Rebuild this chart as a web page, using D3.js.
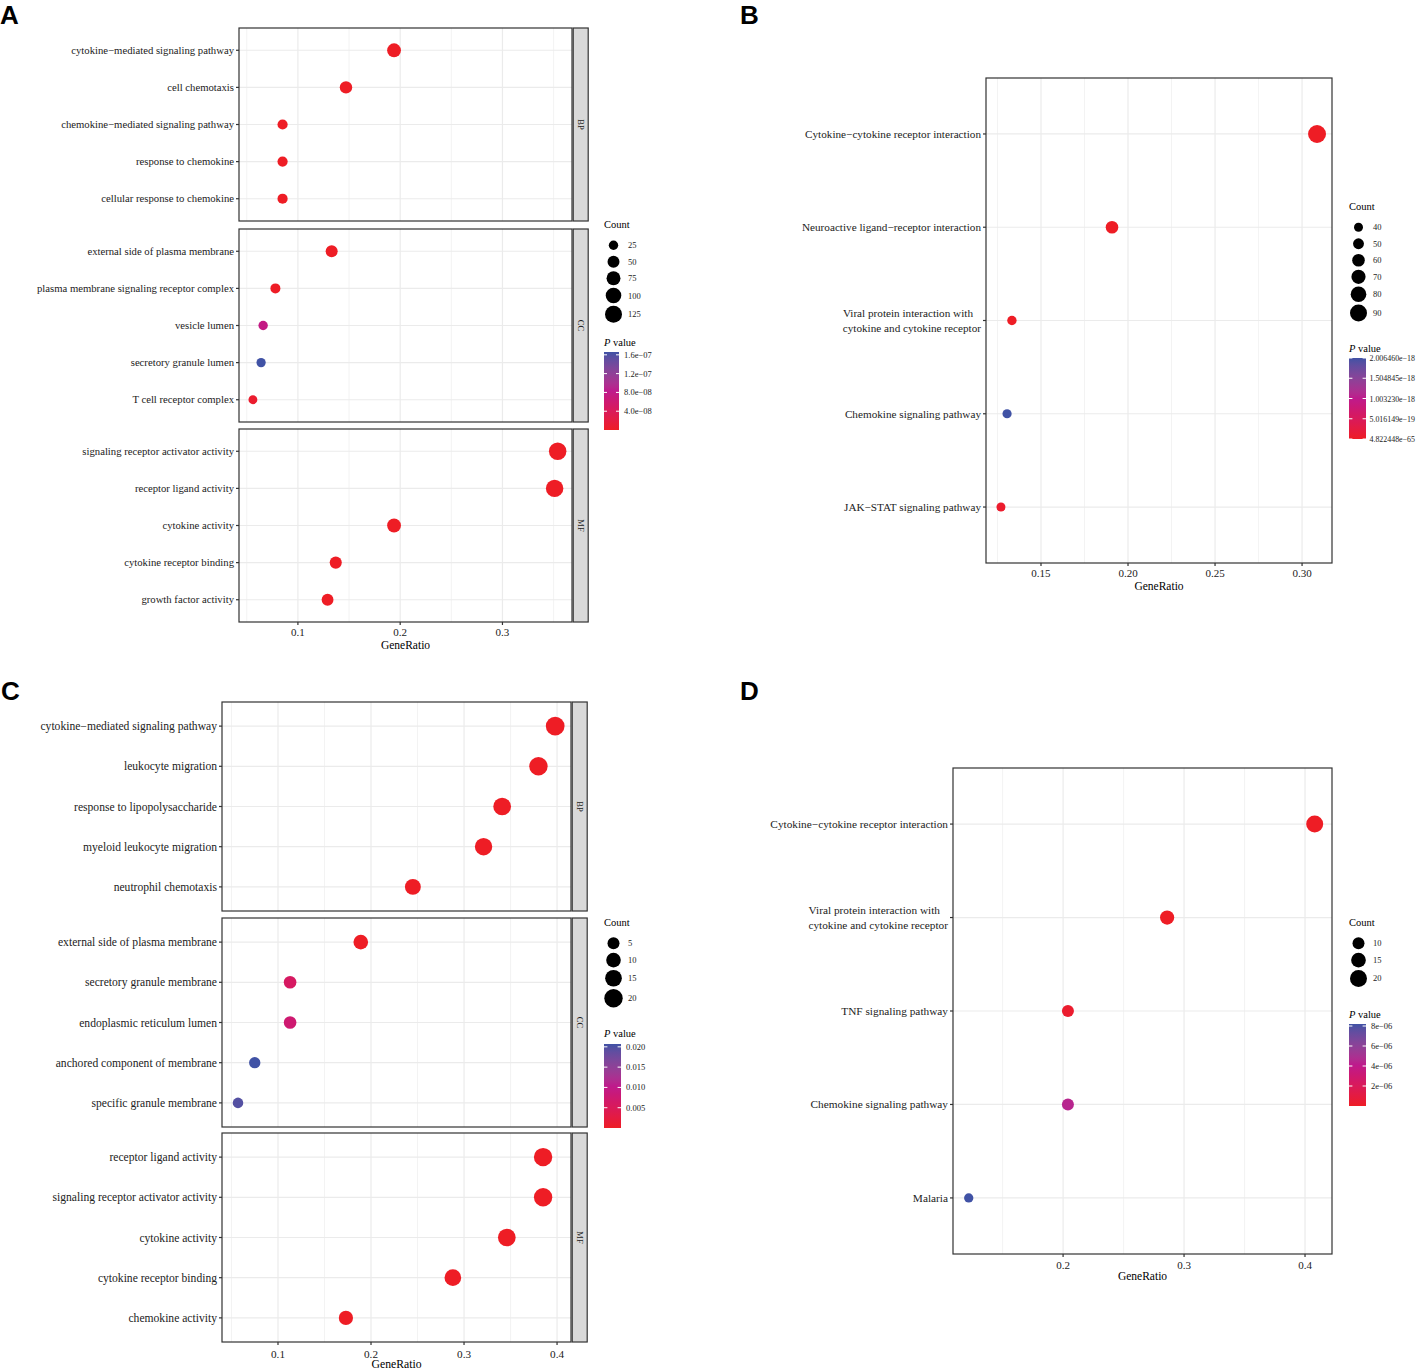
<!DOCTYPE html>
<html><head><meta charset="utf-8">
<script src="https://cdn.jsdelivr.net/npm/d3@7"></script>
<style>
body{margin:0;background:#fff;}
svg{display:block;}
</style>
</head><body>
<svg id="chart" width="1418" height="1370" style="font-family:'Liberation Serif','Times New Roman',serif"></svg>
<script>
// ---------------- Panel A (GO enrichment, faceted) ----------------
const aTerms = [
  "cytokine−mediated signaling pathway","cell chemotaxis","chemokine−mediated signaling pathway","response to chemokine","cellular response to chemokine",
  "external side of plasma membrane","plasma membrane signaling receptor complex","vesicle lumen","secretory granule lumen","T cell receptor complex",
  "signaling receptor activator activity","receptor ligand activity","cytokine activity","cytokine receptor binding","growth factor activity"];
const aOntology = ["BP","BP","BP","BP","BP","CC","CC","CC","CC","CC","MF","MF","MF","MF","MF"];
const aGeneRatio = [0.194,0.147,0.085,0.085,0.085, 0.133,0.078,0.066,0.064,0.056, 0.354,0.351,0.194,0.137,0.129];
const aCount = [74,56,32,32,32, 51,30,25,24,21, 134,133,74,52,49];
const aPvalue = [2.1e-30,5.3e-22,1.2e-18,2.5e-18,2.5e-18, 3.4e-16,8.5e-10,7.6e-8,1.66e-7,6.0e-9, 3.1e-41,7.2e-41,1.5e-33,2.6e-20,4.4e-17];
const aXTicks = [0.1,0.2,0.3];
const aXTickLabels = ["0.1","0.2","0.3"];
const aXMinor = [0.05,0.15,0.25,0.35];
const aCountBreaks = [25,50,75,100,125];
const aPBreaks = [4e-8,8e-8,1.2e-7,1.6e-7];
const aPLabels = ["4.0e−08","8.0e−08","1.2e−07","1.6e−07"];

// ---------------- Panel B (KEGG) ----------------
const bTerms = ["Cytokine−cytokine receptor interaction","Neuroactive ligand−receptor interaction",
  "Viral protein interaction with\ncytokine and cytokine receptor","Chemokine signaling pathway","JAK−STAT signaling pathway"];
const bGeneRatio = [0.3086,0.1908,0.1333,0.1305,0.1270];
const bCount = [97,60,42,41,40];
const bPvalue = [4.822448e-65,3.1e-30,1.4e-24,2.006460e-18,6.2e-20];
const bXTicks = [0.15,0.20,0.25,0.30];
const bXTickLabels = ["0.15","0.20","0.25","0.30"];
const bXMinor = [0.125,0.175,0.225,0.275];
const bCountBreaks = [40,50,60,70,80,90];
const bPBreaks = [4.822448e-65,5.016149e-19,1.003230e-18,1.504845e-18,2.006460e-18];
const bPLabels = ["4.822448e−65","5.016149e−19","1.003230e−18","1.504845e−18","2.006460e−18"];

// ---------------- Panel C (GO enrichment, faceted) ----------------
const cTerms = [
  "cytokine−mediated signaling pathway","leukocyte migration","response to lipopolysaccharide","myeloid leukocyte migration","neutrophil chemotaxis",
  "external side of plasma membrane","secretory granule membrane","endoplasmic reticulum lumen","anchored component of membrane","specific granule membrane",
  "receptor ligand activity","signaling receptor activator activity","cytokine activity","cytokine receptor binding","chemokine activity"];
const cOntology = ["BP","BP","BP","BP","BP","CC","CC","CC","CC","CC","MF","MF","MF","MF","MF"];
const cGeneRatio = [0.398,0.380,0.341,0.321,0.245, 0.189,0.113,0.113,0.075,0.057, 0.385,0.385,0.346,0.288,0.173];
const cCount = [21,20,18,17,13, 10,6,6,4,3, 20,20,18,15,9];
const cPvalue = [2.3e-13,5.1e-14,1.2e-12,3.4e-13,6.7e-12, 2.1e-5,0.0058,0.0074,0.0207,0.0196, 1.1e-15,1.3e-15,2.2e-14,8.7e-12,5.5e-9];
const cXTicks = [0.1,0.2,0.3,0.4];
const cXTickLabels = ["0.1","0.2","0.3","0.4"];
const cXMinor = [0.05,0.15,0.25,0.35];
const cCountBreaks = [5,10,15,20];
const cPBreaks = [0.005,0.010,0.015,0.020];
const cPLabels = ["0.005","0.010","0.015","0.020"];

// ---------------- Panel D (KEGG) ----------------
const dTerms = ["Cytokine−cytokine receptor interaction","Viral protein interaction with\ncytokine and cytokine receptor",
  "TNF signaling pathway","Chemokine signaling pathway","Malaria"];
const dGeneRatio = [0.408,0.286,0.204,0.204,0.122];
const dCount = [20,14,10,10,6];
const dPvalue = [3.2e-15,2.4e-10,3.1e-7,4.4e-6,8.2e-6];
const dXTicks = [0.2,0.3,0.4];
const dXTickLabels = ["0.2","0.3","0.4"];
const dXMinor = [0.15,0.25,0.35];
const dCountBreaks = [10,15,20];
const dPBreaks = [2e-6,4e-6,6e-6,8e-6];
const dPLabels = ["2e−06","4e−06","6e−06","8e−06"];

// ---------------- drawing ----------------
const svg = d3.select("#chart");
const defs = svg.append("defs");
const LOW = "#EE1D25", MID = "#BE1A8C", HIGH = "#4052A5";
const GRID = "#EBEBEB", BORDER = "#333333", TXT = "#222222";
let gradId = 0;

function drawPanel(cfg, data) {
  const g = svg.append("g");
  const x = d3.scaleLinear().domain(cfg.xDomain).range([cfg.left, cfg.right]);
  const pExt = d3.extent(data.pvalue);
  const color = d3.scaleLinear()
    .domain([pExt[0], (pExt[0] + pExt[1]) / 2, pExt[1]])
    .range([LOW, MID, HIGH]).interpolate(d3.interpolateLab);
  const size = d3.scaleSqrt().domain(cfg.sizeDomain).range(cfg.sizeRange);
  const rows = data.terms.map((t, i) => ({term: t, grp: data.group ? data.group[i] : "all",
    gr: data.ratio[i], n: data.count[i], p: data.pvalue[i]}));

  cfg.facets.forEach(f => {
    const sub = rows.filter(r => r.grp === f.name);
    const y = d3.scalePoint().domain(sub.map(r => r.term)).range([f.top, f.bottom]).padding(0.6);
    g.append("rect").attr("x", cfg.left).attr("y", f.top)
      .attr("width", cfg.right - cfg.left).attr("height", f.bottom - f.top).attr("fill", "#fff");
    g.selectAll(null).data(data.minor).enter().append("line")
      .attr("x1", d => x(d)).attr("x2", d => x(d)).attr("y1", f.top).attr("y2", f.bottom)
      .attr("stroke", GRID).attr("stroke-width", 0.6);
    g.selectAll(null).data(data.xticks).enter().append("line")
      .attr("x1", d => x(d)).attr("x2", d => x(d)).attr("y1", f.top).attr("y2", f.bottom)
      .attr("stroke", GRID).attr("stroke-width", 1.2);
    g.selectAll(null).data(sub).enter().append("line")
      .attr("x1", cfg.left).attr("x2", cfg.right).attr("y1", d => y(d.term)).attr("y2", d => y(d.term))
      .attr("stroke", GRID).attr("stroke-width", 1.2);
    g.selectAll(null).data(sub).enter().append("circle")
      .attr("cx", d => x(d.gr)).attr("cy", d => y(d.term)).attr("r", d => size(d.n))
      .attr("fill", d => color(d.p));
    g.append("rect").attr("x", cfg.left).attr("y", f.top)
      .attr("width", cfg.right - cfg.left).attr("height", f.bottom - f.top)
      .attr("fill", "none").attr("stroke", BORDER).attr("stroke-width", 1.2);
    g.selectAll(null).data(sub).enter().append("line")
      .attr("x1", cfg.left - 3).attr("x2", cfg.left).attr("y1", d => y(d.term)).attr("y2", d => y(d.term))
      .attr("stroke", BORDER).attr("stroke-width", 1.2);
    sub.forEach(r => {
      const lines = r.term.split("\n");
      const t = g.append("text").attr("text-anchor", "end").attr("fill", TXT)
        .attr("font-size", cfg.labelSize);
      const lh = cfg.labelSize * 1.3;
      lines.forEach((ln, k) => {
        t.append("tspan").attr("x", cfg.left - 5 + (lines.length > 1 && k === 0 ? -8 : 0))
          .attr("y", y(r.term) + cfg.labelSize * 0.35 + (k - (lines.length - 1) / 2) * lh)
          .text(ln);
      });
    });
    if (cfg.strip) {
      g.append("rect").attr("x", cfg.right + 1.2).attr("y", f.top)
        .attr("width", cfg.stripW).attr("height", f.bottom - f.top)
        .attr("fill", "#D9D9D9").attr("stroke", BORDER).attr("stroke-width", 1.2);
      const cx = cfg.right + 1.2 + cfg.stripW / 2, cy = (f.top + f.bottom) / 2;
      g.append("text").attr("transform", `translate(${cx},${cy}) rotate(90)`)
        .attr("text-anchor", "middle").attr("dy", "0.35em").attr("font-size", 8.5)
        .attr("fill", "#1A1A1A").text(f.name);
    }
  });

  const bottom = cfg.facets[cfg.facets.length - 1].bottom;
  g.selectAll(null).data(data.xticks).enter().append("line")
    .attr("x1", d => x(d)).attr("x2", d => x(d)).attr("y1", bottom).attr("y2", bottom + 3)
    .attr("stroke", BORDER).attr("stroke-width", 1.2);
  g.selectAll(null).data(data.xticks).enter().append("text")
    .attr("x", d => x(d)).attr("y", bottom + cfg.tickDy).attr("text-anchor", "middle")
    .attr("font-size", cfg.tickSize).attr("fill", TXT)
    .text((d, i) => data.xtickLabels[i]);
  g.append("text").attr("x", (cfg.left + cfg.right) / 2).attr("y", bottom + cfg.titleDy)
    .attr("text-anchor", "middle").attr("font-size", cfg.tickSize + 0.5).attr("fill", "#000")
    .text("GeneRatio");

  const L = cfg.legend;
  g.append("text").attr("x", L.x).attr("y", L.countY).attr("font-size", 10.5).attr("fill", "#000").text("Count");
  let yy = L.countY + 9;
  data.countBreaks.forEach(b => {
    const r = size(b);
    const kh = Math.max(16.5, 2 * r + 2.5);
    const cy = yy + kh / 2;
    g.append("circle").attr("cx", L.x + 9.5).attr("cy", cy).attr("r", r).attr("fill", "#000");
    g.append("text").attr("x", L.x + 24).attr("y", cy + 3).attr("font-size", 8.5).attr("fill", TXT).text(b);
    yy += kh;
  });
  const pt = g.append("text").attr("x", L.x).attr("y", L.pY).attr("font-size", 10.5).attr("fill", "#000");
  pt.append("tspan").attr("font-style", "italic").text("P");
  pt.append("tspan").text(" value");

  const id = "grad" + (gradId++);
  const lg = defs.append("linearGradient").attr("id", id)
    .attr("x1", 0).attr("y1", 1).attr("x2", 0).attr("y2", 0);
  d3.range(0, 1.0001, 0.05).forEach(t => {
    lg.append("stop").attr("offset", t).attr("stop-color", color(pExt[0] + t * (pExt[1] - pExt[0])));
  });
  g.append("rect").attr("x", L.x).attr("y", L.barTop).attr("width", L.barW)
    .attr("height", L.barBottom - L.barTop).attr("fill", `url(#${id})`);
  const by = d3.scaleLinear().domain(pExt).range([L.barBottom, L.barTop]);
  data.pBreaks.forEach((b, i) => {
    const yv = by(b);
    g.append("line").attr("x1", L.x).attr("x2", L.x + L.barW / 5).attr("y1", yv).attr("y2", yv)
      .attr("stroke", "#fff").attr("stroke-width", 1);
    g.append("line").attr("x1", L.x + L.barW * 4 / 5).attr("x2", L.x + L.barW).attr("y1", yv).attr("y2", yv)
      .attr("stroke", "#fff").attr("stroke-width", 1);
    g.append("text").attr("x", L.x + L.barW + (L.labGap || 5)).attr("y", yv + 3).attr("font-size", L.labSize || 8.5)
      .attr("fill", TXT).text(data.pLabels[i]);
  });
}

drawPanel({
  left: 239, right: 572, xDomain: [0.0424, 0.368], strip: true, stripW: 15,
  facets: [{name: "BP", top: 28, bottom: 221}, {name: "CC", top: 229, bottom: 422}, {name: "MF", top: 429, bottom: 622}],
  sizeDomain: [25, 125], sizeRange: [4.7, 8.5], labelSize: 10.7, tickSize: 11, tickDy: 14, titleDy: 27,
  legend: {x: 604, countY: 228, pY: 346, barTop: 352, barBottom: 430, barW: 15}
}, {terms: aTerms, group: aOntology, ratio: aGeneRatio, count: aCount, pvalue: aPvalue,
    xticks: aXTicks, xtickLabels: aXTickLabels, minor: aXMinor,
    countBreaks: aCountBreaks, pBreaks: aPBreaks, pLabels: aPLabels});

drawPanel({
  left: 986, right: 1332, xDomain: [0.1184, 0.3172], strip: false,
  facets: [{name: "all", top: 78, bottom: 563}],
  sizeDomain: [40, 90], sizeRange: [4.5, 8.5], labelSize: 11.2, tickSize: 11, tickDy: 14, titleDy: 27,
  legend: {x: 1349, countY: 210, pY: 352, barTop: 358, barBottom: 439, barW: 17, labSize: 7.9, labGap: 3.5}
}, {terms: bTerms, ratio: bGeneRatio, count: bCount, pvalue: bPvalue,
    xticks: bXTicks, xtickLabels: bXTickLabels, minor: bXMinor,
    countBreaks: bCountBreaks, pBreaks: bPBreaks, pLabels: bPLabels});

drawPanel({
  left: 222, right: 571, xDomain: [0.0398, 0.415], strip: true, stripW: 15,
  facets: [{name: "BP", top: 702, bottom: 911}, {name: "CC", top: 918, bottom: 1127}, {name: "MF", top: 1133, bottom: 1342}],
  sizeDomain: [5, 20], sizeRange: [6, 9.2], labelSize: 11.6, tickSize: 11.2, tickDy: 16, titleDy: 26,
  legend: {x: 604, countY: 926, pY: 1037, barTop: 1044, barBottom: 1128, barW: 17}
}, {terms: cTerms, group: cOntology, ratio: cGeneRatio, count: cCount, pvalue: cPvalue,
    xticks: cXTicks, xtickLabels: cXTickLabels, minor: cXMinor,
    countBreaks: cCountBreaks, pBreaks: cPBreaks, pLabels: cPLabels});

drawPanel({
  left: 953, right: 1332, xDomain: [0.109, 0.4223], strip: false,
  facets: [{name: "all", top: 768, bottom: 1254}],
  sizeDomain: [10, 20], sizeRange: [6, 8.5], labelSize: 11.3, tickSize: 11, tickDy: 15, titleDy: 26,
  legend: {x: 1349, countY: 926, pY: 1018, barTop: 1024, barBottom: 1106, barW: 17}
}, {terms: dTerms, ratio: dGeneRatio, count: dCount, pvalue: dPvalue,
    xticks: dXTicks, xtickLabels: dXTickLabels, minor: dXMinor,
    countBreaks: dCountBreaks, pBreaks: dPBreaks, pLabels: dPLabels});

// panel letters
[["A", 0, 24], ["B", 740, 24], ["C", 1, 700], ["D", 740, 700]].forEach(([t, px, py]) => {
  svg.append("text").attr("x", px).attr("y", py)
    .style("font-family", "'Liberation Sans',Arial,sans-serif")
    .attr("font-weight", "bold").attr("font-size", 26).attr("fill", "#000").text(t);
});
</script>
</body></html>
